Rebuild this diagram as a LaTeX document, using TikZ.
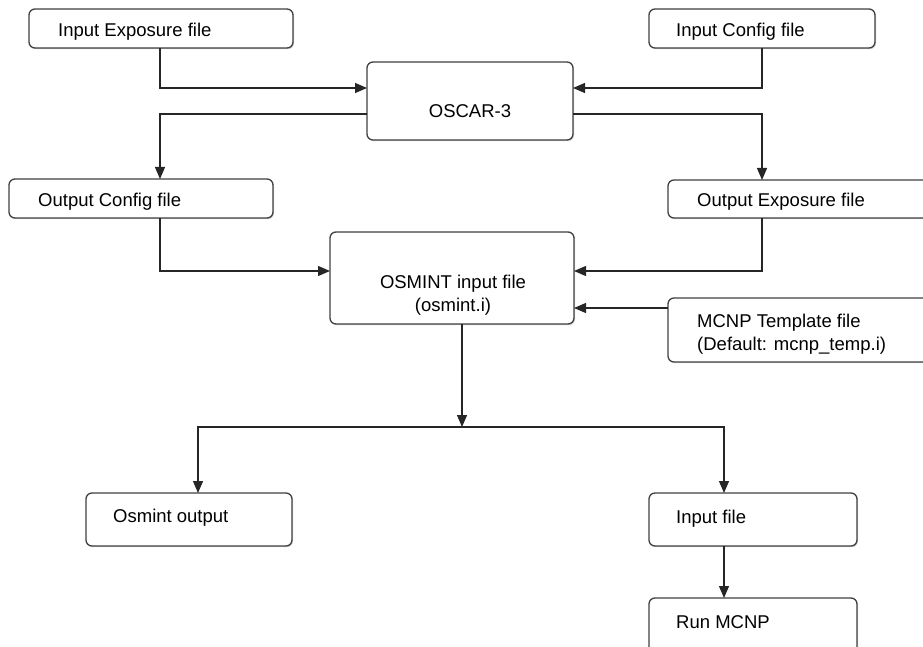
\documentclass[tikz,border=0pt]{standalone}
\usepackage{fontspec}
\setmainfont{Liberation Sans}
\usetikzlibrary{arrows.meta,shadows}
\begin{document}
\begin{tikzpicture}[x=1pt,y=-1pt,
  box/.style={draw=black!75, line width=1.3pt, rounded corners=6pt, fill=white,
    anchor=north west, inner sep=0pt, outer sep=0pt,
    drop shadow={shadow xshift=1pt, shadow yshift=-1.2pt, opacity=0.35}},
  txt/.style={anchor=base west, inner sep=0pt, font=\fontsize{18.5}{23}\selectfont},
  ctxt/.style={anchor=base, inner sep=0pt, font=\fontsize{18.5}{23}\selectfont},
  conn/.style={draw=black!85, line width=1.3pt, -{Triangle[length=12pt,width=10pt]}},
  plain/.style={draw=black!85, line width=1.3pt}]
\useasboundingbox (0,0) rectangle (923,647);
% boxes
\node[box, minimum width=264pt, minimum height=39pt] (ie) at (29,9) {};
\node[box, minimum width=226pt, minimum height=39pt] (ic) at (649,9) {};
\node[box, minimum width=206pt, minimum height=78pt] (oscar) at (367,62) {};
\node[box, minimum width=264pt, minimum height=39pt] (oc) at (9,179) {};
\node[box, minimum width=275pt, minimum height=38pt] (oe) at (668,180) {};
\node[box, minimum width=244pt, minimum height=92pt] (osmint) at (330,232) {};
\node[box, minimum width=275pt, minimum height=64pt] (mcnp) at (668,298) {};
\node[box, minimum width=206pt, minimum height=53pt] (osout) at (86,493) {};
\node[box, minimum width=208pt, minimum height=53pt] (infile) at (649,493) {};
\node[box, minimum width=208pt, minimum height=70pt] (run) at (649,598) {};
% texts
\node[txt] (ietxt) at (58,37) {Input Exposure file};
\node[txt] (ictxt) at (676,37) {Input Config file};
\node[ctxt] (oscartxt) at (470,118) {OSCAR-3};
\node[txt] (octxt) at (38,207) {Output Config file};
\node[txt] (oetxt) at (697,207) {Output Exposure file};
\node[ctxt] (osminttxta) at (453,288) {OSMINT input file};
\node[ctxt] (osminttxtb) at (453,311) {(osmint.i)};
\node[txt] (mcnptxta) at (697,327) {MCNP Template file};
\node[txt] (mcnptxtb) at (697,350) {(Default: mcnp\_temp.i)};
\node[txt] (osouttxt) at (113,522) {Osmint output};
\node[txt] (infiletxt) at (676,523) {Input file};
\node[txt] (runtxt) at (676,628) {Run MCNP};
% helper coordinates
\coordinate (xL) at (160,0);
\coordinate (xR) at (762,0);
\coordinate (yA) at (0,88);
\coordinate (yB) at (0,114);
\coordinate (yC) at (0,271);
\coordinate (yD) at (0,308);
\coordinate (split) at (462,427);
\coordinate (xBL) at (198,0);
\coordinate (xBR) at (724,0);
% connectors
\draw[conn] (ie.south -| xL) |- (oscar.west |- yA);
\draw[conn] (ic.south -| xR) |- (oscar.east |- yA);
\draw[conn] (oscar.west |- yB) -| (oc.north -| xL);
\draw[conn] (oscar.east |- yB) -| (oe.north -| xR);
\draw[conn] (oc.south -| xL) |- (osmint.west |- yC);
\draw[conn] (oe.south -| xR) |- (osmint.east |- yC);
\draw[conn] (mcnp.west |- yD) -- (osmint.east |- yD);
\draw[conn] (osmint.south -| split) -- (split);
\draw[conn] (split) -| (osout.north -| xBL);
\draw[conn] (split) -| (infile.north -| xBR);
\draw[conn] (infile.south -| xBR) -- (run.north -| xBR);
\end{tikzpicture}
\end{document}
